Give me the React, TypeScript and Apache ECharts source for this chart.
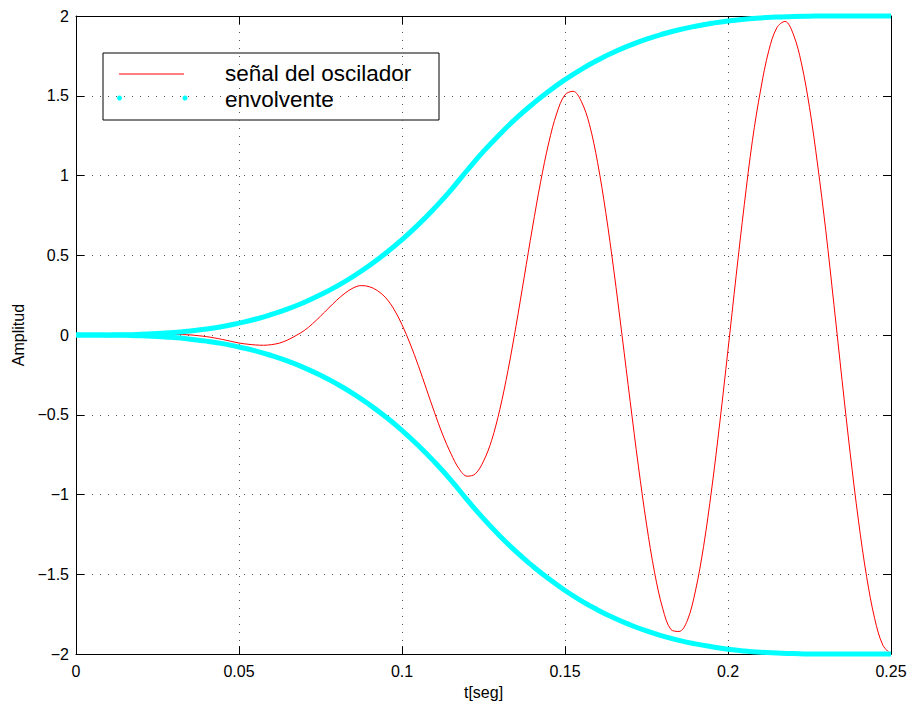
import React, { useEffect, useRef } from "react";
import * as echarts from "echarts";

const envTime = [
  0, 0.005, 0.01, 0.015, 0.02, 0.025, 0.03, 0.035, 0.04, 0.045, 0.05, 0.055, 0.06, 0.065, 0.07, 0.075,
  0.08, 0.085, 0.09, 0.095, 0.1, 0.105, 0.11, 0.115, 0.12, 0.125, 0.13, 0.135, 0.14, 0.145, 0.15,
  0.155, 0.16, 0.165, 0.17, 0.175, 0.18, 0.185, 0.19, 0.195, 0.2, 0.205, 0.21, 0.215, 0.22, 0.225,
  0.23, 0.235, 0.24, 0.245, 0.25,
];
const envUpper = [
  0, 0, 0.001, 0.002, 0.005, 0.009, 0.016, 0.026, 0.038, 0.054, 0.075, 0.099, 0.129, 0.164, 0.205,
  0.252, 0.306, 0.367, 0.436, 0.513, 0.598, 0.692, 0.796, 0.909, 1.033, 1.151, 1.259, 1.358, 1.447,
  1.528, 1.601, 1.666, 1.723, 1.773, 1.817, 1.855, 1.887, 1.914, 1.936, 1.954, 1.969, 1.98, 1.988,
  1.993, 1.997, 1.999, 2, 2, 2, 2, 2,
];
const envLower = [
  0, 0, -0.001, -0.002, -0.005, -0.009, -0.016, -0.026, -0.038, -0.054, -0.075, -0.099, -0.129,
  -0.164, -0.205, -0.252, -0.306, -0.367, -0.436, -0.513, -0.598, -0.692, -0.796, -0.909, -1.033,
  -1.151, -1.259, -1.358, -1.447, -1.528, -1.601, -1.666, -1.723, -1.773, -1.817, -1.855, -1.887,
  -1.914, -1.936, -1.954, -1.969, -1.98, -1.988, -1.993, -1.997, -1.999, -2, -2, -2, -2, -2,
];

const sigTime = [
  0, 0.0025, 0.005, 0.0075, 0.01, 0.0125, 0.015, 0.0175, 0.02, 0.0225, 0.025, 0.0275, 0.03, 0.0325,
  0.035, 0.0375, 0.04, 0.0425, 0.045, 0.0475, 0.05, 0.0525, 0.055, 0.0575, 0.06, 0.0625, 0.065,
  0.0675, 0.07, 0.0725, 0.075, 0.0775, 0.08, 0.0825, 0.085, 0.0875, 0.09, 0.0925, 0.095, 0.0975,
  0.1, 0.1025, 0.105, 0.1075, 0.11, 0.1125, 0.115, 0.1175, 0.12, 0.1225, 0.125, 0.1275, 0.13,
  0.1325, 0.135, 0.1375, 0.14, 0.1425, 0.145, 0.1475, 0.15, 0.1525, 0.155, 0.1575, 0.16, 0.1625,
  0.165, 0.1675, 0.17, 0.1725, 0.175, 0.1775, 0.18, 0.1825, 0.185, 0.1875, 0.19, 0.1925, 0.195,
  0.1975, 0.2, 0.2025, 0.205, 0.2075, 0.21, 0.2125, 0.215, 0.2175, 0.22, 0.2225, 0.225, 0.2275,
  0.23, 0.2325, 0.235, 0.2375, 0.24, 0.2425, 0.245, 0.2475, 0.25,
];
const oscillator = [
  0, 0, 0, 0, 0, 0, 0, 0, 0, 0, 0.003, 0.004, 0.004, 0.003, 0.001, -0.004, -0.01, -0.018, -0.028,
  -0.039, -0.05, -0.057, -0.062, -0.064, -0.06, -0.05, -0.03, -0.003, 0.028, 0.07, 0.118, 0.169,
  0.219, 0.262, 0.295, 0.31, 0.303, 0.278, 0.234, 0.163, 0.065, -0.055, -0.191, -0.339, -0.487,
  -0.626, -0.743, -0.838, -0.885, -0.87, -0.791, -0.66, -0.467, -0.223, 0.06, 0.365, 0.671, 0.958,
  1.204, 1.392, 1.506, 1.528, 1.465, 1.32, 1.081, 0.769, 0.402, -0.002, -0.417, -0.82, -1.185,
  -1.491, -1.716, -1.846, -1.858, -1.791, -1.605, -1.326, -0.965, -0.546, -0.092, 0.372, 0.818,
  1.221, 1.536, 1.782, 1.927, 1.966, 1.888, 1.706, 1.427, 1.066, 0.654, 0.19, -0.285, -0.744,
  -1.16, -1.512, -1.778, -1.944, -2.0,
];

const xTickLabels = ["0", "0.05", "0.1", "0.15", "0.2", "0.25"];
const yTickLabels = ["\u22122", "\u22121.5", "\u22121", "\u22120.5", "0", "0.5", "1", "1.5", "2"];
const legendLabels = ["señal del oscilador", "envolvente"];

const FONT = "'Liberation Sans', Arial, Helvetica, sans-serif";

export default function App() {
  const ref = useRef<HTMLDivElement>(null);
  useEffect(() => {
    if (!ref.current) return;
    const chart = echarts.init(ref.current, undefined, { renderer: "svg" });
    const pair = (ts: number[], vs: number[]) => ts.map((t, i) => [t, vs[i]]);
    const gridDots = { show: true, lineStyle: { color: "#555", width: 1, type: [1, 7] as any } };
    const labelStyle = { color: "#000", fontSize: 16, fontFamily: FONT };
    const xIdx = (v: number) => Math.round(v / 0.05);
    const yIdx = (v: number) => Math.round((v + 2) / 0.5);
    const frameAxis = {
      type: "value",
      axisLine: { show: true, onZero: false, lineStyle: { color: "#000", width: 1 } },
      axisTick: { show: true, inside: true, length: 8, lineStyle: { color: "#000" } },
    };
    const legendText = (text: string, y: number) => ({
      type: "text",
      x: 225,
      y,
      style: {
        text,
        fill: "#000",
        font: `22.5px ${FONT}`,
        verticalAlign: "middle",
        align: "left",
      },
    });
    chart.setOption({
      animation: false,
      backgroundColor: "#fff",
      grid: { left: 76, right: 20, top: 16, bottom: 47, containLabel: false },
      xAxis: [
        {
          ...frameAxis,
          min: 0,
          max: 0.25,
          interval: 0.05,
          position: "bottom",
          axisLabel: { ...labelStyle, margin: 9, formatter: (v: number) => xTickLabels[xIdx(v)] },
          splitLine: gridDots,
          name: "t[seg]",
          nameLocation: "middle",
          nameGap: 28,
          nameTextStyle: { ...labelStyle },
        },
        {
          ...frameAxis,
          min: 0,
          max: 0.25,
          interval: 0.05,
          position: "top",
          axisLabel: { show: false },
          splitLine: { show: false },
        },
      ],
      yAxis: [
        {
          ...frameAxis,
          min: -2,
          max: 2,
          interval: 0.5,
          position: "left",
          axisLabel: { ...labelStyle, margin: 7, formatter: (v: number) => yTickLabels[yIdx(v)] },
          splitLine: gridDots,
          name: "Amplitud",
          nameLocation: "middle",
          nameRotate: 90,
          nameGap: 46,
          nameTextStyle: { ...labelStyle },
        },
        {
          ...frameAxis,
          min: -2,
          max: 2,
          interval: 0.5,
          position: "right",
          axisLabel: { show: false },
          splitLine: { show: false },
        },
      ],
      series: [
        {
          name: legendLabels[0],
          type: "line",
          data: pair(sigTime, oscillator),
          showSymbol: false,
          smooth: 0.35,
          clip: false,
          lineStyle: { color: "#ff0000", width: 1 },
          z: 2,
        },
        {
          name: legendLabels[1],
          type: "line",
          data: pair(envTime, envUpper),
          showSymbol: false,
          smooth: true,
          clip: false,
          lineStyle: { color: "#00ffff", width: 5 },
          z: 3,
        },
        {
          name: legendLabels[1] + " ",
          type: "line",
          data: pair(envTime, envLower),
          showSymbol: false,
          smooth: true,
          clip: false,
          lineStyle: { color: "#00ffff", width: 5 },
          z: 3,
        },
      ],
      graphic: [
        {
          type: "group",
          z: 100,
          children: [
            {
              type: "rect",
              shape: { x: 103, y: 53, width: 336, height: 67 },
              style: { fill: "#fff", stroke: "#000", lineWidth: 1 },
            },
            {
              type: "line",
              shape: { x1: 119, y1: 74, x2: 184, y2: 74 },
              style: { stroke: "#ff0000", lineWidth: 1 },
            },
            { type: "circle", shape: { cx: 119.5, cy: 98, r: 2.5 }, style: { fill: "#00ffff" } },
            { type: "circle", shape: { cx: 185, cy: 98, r: 2.5 }, style: { fill: "#00ffff" } },
            legendText(legendLabels[0], 73),
            legendText(legendLabels[1], 99.5),
          ],
        },
      ],
    });
    return () => chart.dispose();
  }, []);
  return (
    <div
      ref={ref}
      style={{ position: "fixed", left: 0, top: 0, width: 911, height: 705, background: "#fff" }}
    />
  );
}
